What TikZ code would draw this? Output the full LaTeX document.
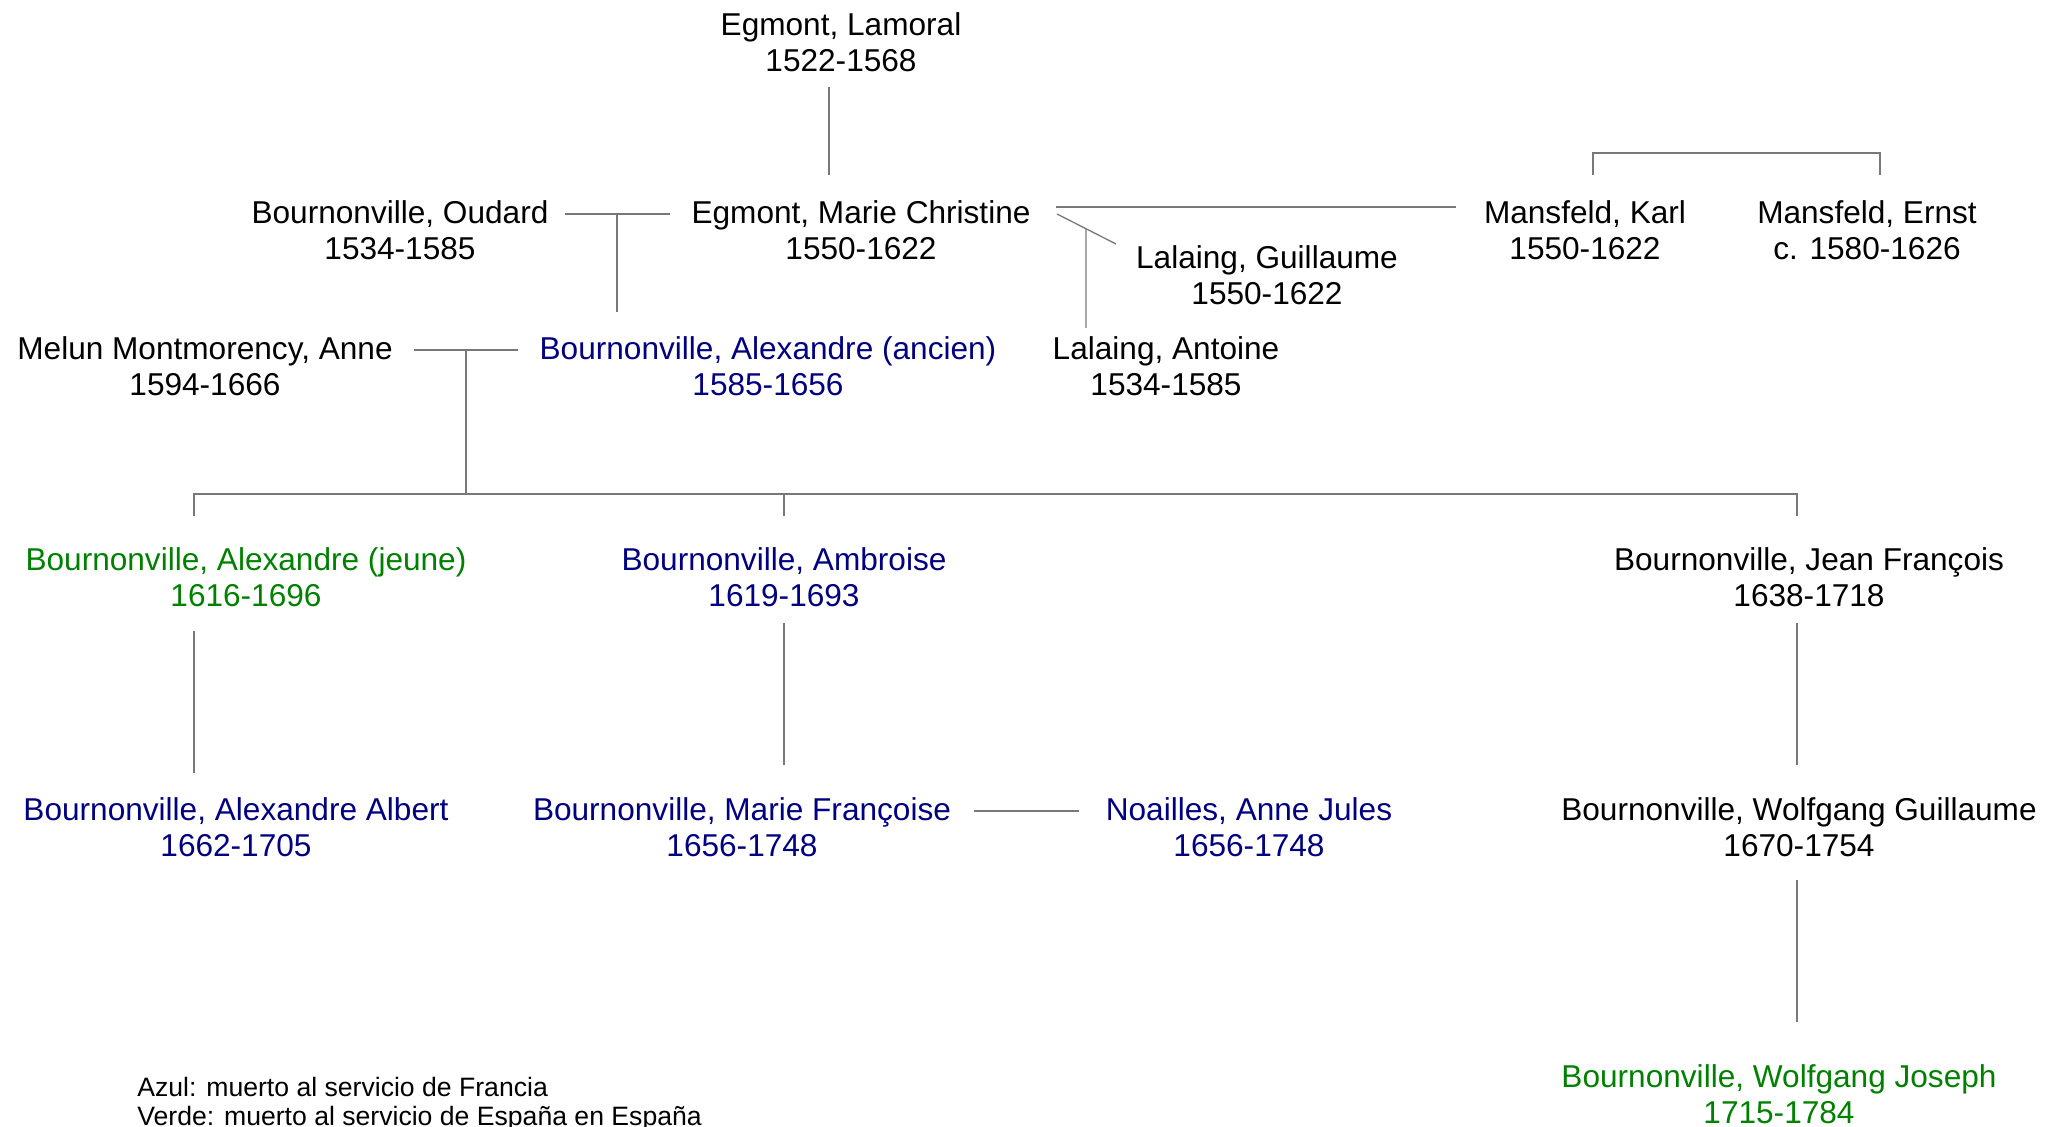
\documentclass[tikz,border=0pt]{standalone}
\usepackage{fontspec}
\setmainfont{Liberation Sans}
\usepackage{tikz}
\usetikzlibrary{calc}
\definecolor{franceblue}{RGB}{0,0,128}
\definecolor{spaingreen}{RGB}{0,128,0}
\definecolor{linegray}{RGB}{120,120,120}

\begin{document}
\begin{tikzpicture}[x=0.5pt,y=-0.5pt,
    person/.style={align=center, inner sep=0pt, anchor=base, font=\fontsize{15.8}{18}\selectfont},
    link/.style={draw=linegray, line width=0.65pt}]
       \useasboundingbox (0,0) rectangle (2060,1127);

       % people (anchor = baseline of the dates)
       \node[person] (lamoral) at (841,72) {Egmont, Lamoral\\1522-1568};
       \node[person] (oudard) at (400,260) {Bournonville, Oudard\\1534-1585};
       \node[person] (mchristine) at (861,260) {Egmont, Marie Christine\\1550-1622};
       \node[person] (karl) at (1585,260) {Mansfeld, Karl\\1550-1622};
       \node[person] (ernst) at (1867,260) {Mansfeld, Ernst\\c. 1580-1626};
       \node[person] (guillaume) at (1267,305) {Lalaing, Guillaume\\1550-1622};
       \node[person] (anne) at (205,396) {Melun Montmorency, Anne\\1594-1666};
       \node[person, franceblue] (alexA) at (768,396) {Bournonville, Alexandre (ancien)\\1585-1656};
       \node[person] (antoine) at (1166,396) {Lalaing, Antoine\\1534-1585};

       \node[person, spaingreen] (alexJ) at (246,607) {Bournonville, Alexandre (jeune)\\1616-1696};
       \node[person, franceblue] (ambroise) at (784,607) {Bournonville, Ambroise\\1619-1693};
       \node[person] (jfrancois) at (1809,607) {Bournonville, Jean François\\1638-1718};

       \node[person, franceblue] (albert) at (236,856) {Bournonville, Alexandre Albert\\1662-1705};
       \node[person, franceblue] (mfrancoise) at (742,856) {Bournonville, Marie Françoise\\1656-1748};
       \node[person, franceblue] (noailles) at (1249,856) {Noailles, Anne Jules\\1656-1748};
       \node[person] (wguillaume) at (1799,856) {Bournonville, Wolfgang Guillaume\\1670-1754};
       \node[person, spaingreen] (wjoseph) at (1779,1123) {Bournonville, Wolfgang Joseph\\1715-1784};

       \node[align=left, anchor=base west, inner sep=0pt, font=\fontsize{13.3}{14.5}\selectfont] (legend) at (137,1125)
            {Azul: muerto al servicio de Francia\\Verde: muerto al servicio de España en España};

       % Lamoral -> Marie Christine
       \coordinate (lamoral-s) at (829,87);
       \coordinate (mchristine-n) at (829,175);
       \draw[link] (lamoral-s) -- (mchristine-n);

       % Oudard x Marie Christine
       \coordinate (om-w) at (565,214);
       \coordinate (om-e) at (670,214);
       \coordinate (om-m) at (617,214);
       \coordinate (alexA-n) at (617,312);
       \draw[link] (om-w) -- (om-e);
       \draw[link] (om-m) -- (alexA-n);

       % Marie Christine x Karl
       \coordinate (mk-w) at (1056,207);
       \coordinate (mk-e) at (1456,207);
       \draw[link] (mk-w) -- (mk-e);

       % Marie Christine x Guillaume
       \coordinate (mg-w) at (1057,214);
       \coordinate (mg-e) at (1116,244);
       \coordinate (mg-m) at ($(mg-w)!0.4915!(mg-e)$);
       \coordinate (antoine-n) at (1086,328);
       \draw[link] (mg-w) -- (mg-e);
       \draw[link] (mg-m) -- (antoine-n);

       % Karl, Ernst
       \coordinate (karl-n) at (1593,175);
       \coordinate (ernst-n) at (1880,175);
       \draw[link] (karl-n) -- ++(0,-22) -| (ernst-n);

       % Anne x Alexandre (ancien)
       \coordinate (aa-w) at (414,350);
       \coordinate (aa-e) at (518,350);
       \coordinate (aa-m) at (466,350);
       \coordinate (kids) at (466,494);
       \draw[link] (aa-w) -- (aa-e);
       \draw[link] (aa-m) -- (kids);

       \coordinate (alexJ-n) at (194,516);
       \coordinate (ambroise-n) at (784,516);
       \coordinate (jfrancois-n) at (1797,516);
       \draw[link] (alexJ-n) |- (jfrancois-n |- kids) -- (jfrancois-n);
       \draw[link] (ambroise-n) -- (ambroise-n |- kids);

       % next generation
       \coordinate (alexJ-s) at (194,631);
       \coordinate (albert-n) at (194,773);
       \draw[link] (alexJ-s) -- (albert-n);

       \coordinate (ambroise-s) at (784,623);
       \coordinate (mfrancoise-n) at (784,765);
       \draw[link] (ambroise-s) -- (mfrancoise-n);

       \coordinate (jfrancois-s) at (1797,623);
       \coordinate (wguillaume-n) at (1797,765);
       \draw[link] (jfrancois-s) -- (wguillaume-n);

       % Marie Francoise x Noailles
       \coordinate (mn-w) at (974,811);
       \coordinate (mn-e) at (1079,811);
       \draw[link] (mn-w) -- (mn-e);

       \coordinate (wguillaume-s) at (1797,880);
       \coordinate (wjoseph-n) at (1797,1022);
       \draw[link] (wguillaume-s) -- (wjoseph-n);
\end{tikzpicture}
\end{document}
